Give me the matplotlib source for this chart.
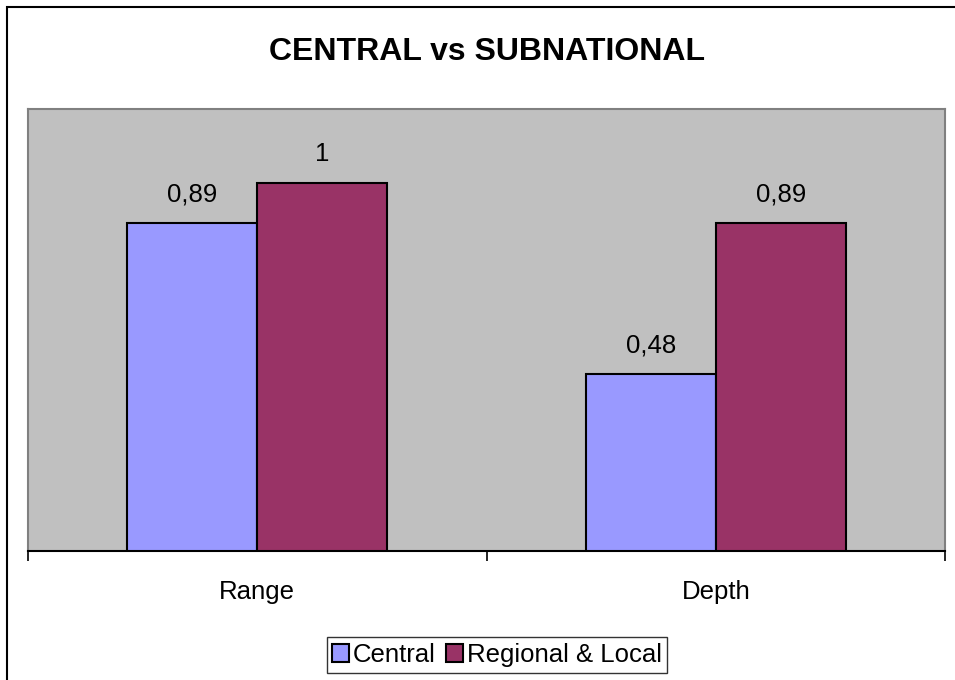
import matplotlib
matplotlib.use("Agg")
import matplotlib.pyplot as plt
import matplotlib.patches as mpatches
import numpy as np

plt.rcParams['font.family'] = ['Liberation Sans', 'DejaVu Sans']

categories = ["Range", "Depth"]
series_names = ["Central", "Regional & Local"]
central = [0.89, 0.48]
regional = [1.0, 0.89]
colors = ["#9999FF", "#993366"]
title = "CENTRAL vs SUBNATIONAL"

def fmt(v):
    s = ("%g" % v)
    return s.replace(".", ",")

fig = plt.figure(figsize=(9.55, 6.8), dpi=100)
ax = fig.add_axes([28/955, 1-551/680, (945-28)/955, (551-109)/680])
ax.set_facecolor("#C0C0C0")

x = np.arange(len(categories))
w = 0.284
for i, (vals, col, name) in enumerate(zip([central, regional], colors, series_names)):
    pos = x + (i - 0.5) * w
    bars = ax.bar(pos, vals, width=w, color=col, edgecolor="black", linewidth=1.5, label=name, zorder=3)
    for b, v in zip(bars, vals):
        ax.annotate(fmt(v), (b.get_x() + b.get_width()/2, v), xytext=(0, 12),
                    textcoords="offset points", ha="center", va="bottom", fontsize=18.5)

ax.set_xlim(-0.5, len(categories) - 0.5)
ax.set_ylim(0, 1.2)
ax.set_yticks([])
ax.set_xticks(x)
ax.set_xticklabels(categories, fontsize=18.5)
ax.tick_params(axis="x", which="major", length=0, pad=21)
ax.set_xticks(np.arange(-0.5, len(categories), 1.0), minor=True)
ax.tick_params(axis="x", which="minor", length=7, width=1.2, color="black")

for s in ["left", "top", "right"]:
    ax.spines[s].set_color("#808080")
    ax.spines[s].set_linewidth(1.5)
ax.spines["bottom"].set_color("black")
ax.spines["bottom"].set_linewidth(1.5)

fig.text(487/955, 1-52/680, title, ha="center", va="center", fontsize=23, fontweight="bold")

leg = fig.legend(loc="center", bbox_to_anchor=(497/955, 1-655/680), ncol=2, fontsize=18.5,
                 frameon=True, fancybox=False, edgecolor="black", handlelength=0.65,
                 handleheight=0.65, handletextpad=0.15, columnspacing=0.4, borderpad=0.22,
                 borderaxespad=0)
leg.get_frame().set_linewidth(1.0)

border = mpatches.Rectangle((7/955, -0.1), 1.2, 1 - 7/680 + 0.1, transform=fig.transFigure,
                            fill=False, edgecolor="black", linewidth=1.5)
fig.patches.append(border)

fig.savefig("out.png", dpi=100)
